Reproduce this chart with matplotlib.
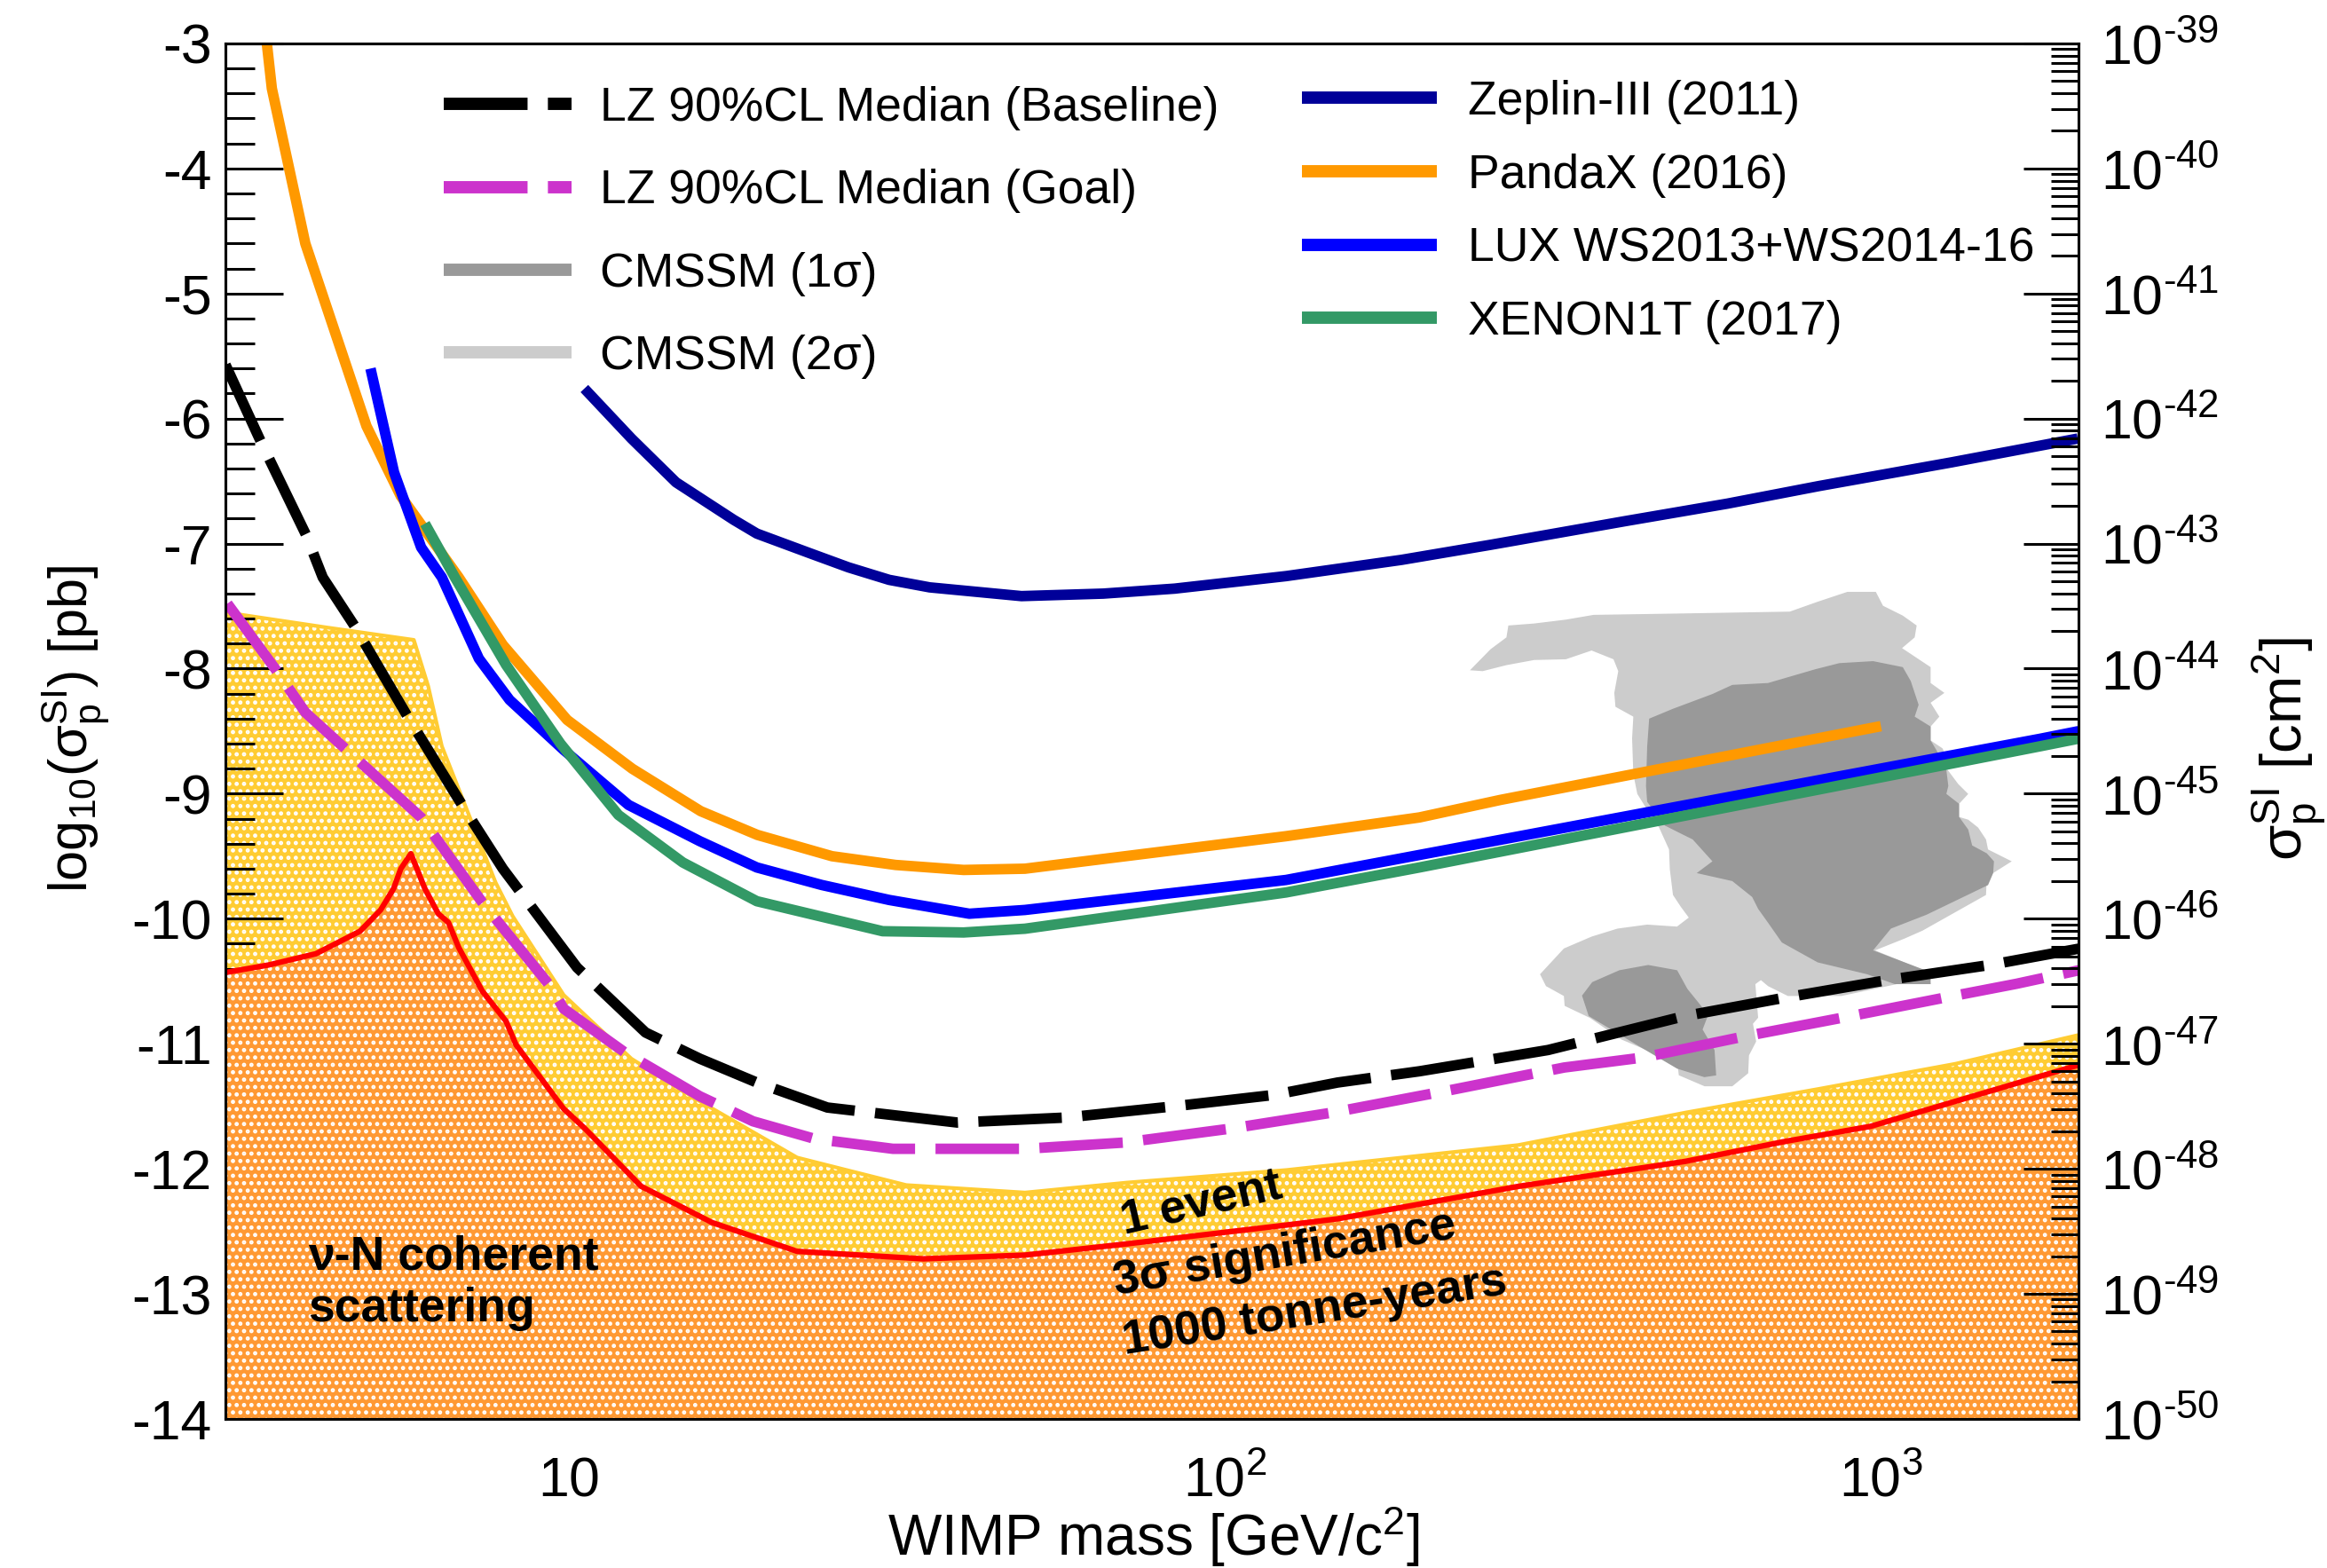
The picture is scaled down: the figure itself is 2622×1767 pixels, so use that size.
import numpy as np
import matplotlib.pyplot as plt
from matplotlib.lines import Line2D
from matplotlib.ticker import FixedLocator, FixedFormatter, LogLocator, NullFormatter, MultipleLocator

plt.rcParams['font.family'] = ['Liberation Sans', 'DejaVu Sans']
plt.rcParams['mathtext.fontset'] = 'custom'
plt.rcParams['mathtext.rm'] = 'Liberation Sans'
plt.rcParams['mathtext.it'] = 'Liberation Sans:italic'
plt.rcParams['mathtext.bf'] = 'Liberation Sans:bold'
plt.rcParams['axes.unicode_minus'] = False
plt.rcParams['hatch.color'] = 'white'
plt.rcParams['hatch.linewidth'] = 2.2

# --- curves: WIMP mass [GeV] vs log10(sigma_SI / pb) ---
zeplin_mass = [10.57, 12.47, 14.58, 17.85, 19.36, 23.4, 26.7, 30.8, 35.5, 49.0, 65.3, 83.9,
               124, 186, 254, 408, 584, 804, 1282, 1995]
zeplin_log = [-5.76, -6.16, -6.51, -6.81, -6.92, -7.08, -7.19, -7.29, -7.35, -7.42, -7.40, -7.36,
              -7.26, -7.13, -7.01, -6.82, -6.68, -6.54, -6.35, -6.16]

pandax_mass = [3.46, 3.53, 3.97, 4.92, 5.55, 6.80, 7.94, 9.95, 12.5, 15.9, 19.4, 25.2, 31.5,
               40.0, 49.6, 124, 198, 263, 1000]
pandax_log = [-2.95, -3.36, -4.60, -6.06, -6.62, -7.27, -7.81, -8.41, -8.80, -9.14, -9.33, -9.50,
              -9.57, -9.61, -9.60, -9.34, -9.19, -9.05, -8.46]

lux_mass = [4.99, 5.42, 5.96, 6.41, 7.30, 8.13, 9.83, 12.34, 15.85, 19.36, 24.3, 30.8, 40.8,
            49.6, 124, 198, 1752, 2000]
lux_log = [-5.60, -6.43, -7.03, -7.27, -7.92, -8.25, -8.65, -9.09, -9.38, -9.59, -9.73, -9.85,
           -9.96, -9.93, -9.69, -9.49, -8.56, -8.50]

xenon_mass = [6.04, 6.71, 8.03, 9.72, 11.91, 14.93, 19.36, 30.1, 40.0, 49.6, 124, 198, 1752, 2000]
xenon_log = [-6.84, -7.27, -7.97, -8.60, -9.17, -9.55, -9.86, -10.10, -10.11, -10.08, -9.79,
             -9.59, -8.62, -8.56]

lz_base_mass = [3.0, 3.40, 3.98, 4.22, 4.72, 5.68, 6.88, 7.94, 10.3, 13.1, 15.86, 19.36, 24.8,
                39.1, 57.3, 83.8, 118.5, 148.6, 198, 311, 501, 716, 1025, 1465, 2000]
lz_base_log = [-5.57, -6.19, -6.93, -7.27, -7.66, -8.38, -9.09, -9.60, -10.39, -10.91, -11.12,
               -11.31, -11.51, -11.63, -11.59, -11.50, -11.41, -11.31, -11.22, -11.05, -10.78,
               -10.63, -10.49, -10.37, -10.24]

lz_goal_mass = [3.02, 3.57, 3.97, 5.96, 7.39, 9.38, 9.83, 12.19, 15.85, 19.1, 23.7, 31.2, 49.6,
                70.3, 101.6, 146, 221, 329, 434, 621, 897, 1282, 1610, 2013]
lz_goal_log = [-7.48, -8.00, -8.35, -9.19, -9.87, -10.54, -10.72, -11.07, -11.42, -11.62, -11.76,
               -11.84, -11.84, -11.79, -11.68, -11.55, -11.37, -11.19, -11.11, -10.94, -10.78,
               -10.62, -10.52, -10.41]

# neutrino backgrounds: 1 event (yellow) and 3 sigma / 1000 t-yr (red)
nu1_mass = [3.0, 4.27, 5.81, 6.11, 6.41, 6.88, 7.74, 8.22, 9.83, 12.47, 15.85, 22.3, 32.7, 49.6,
            71, 124, 280, 504, 806, 1299, 2000]
nu1_log = [-7.55, -7.67, -7.77, -8.14, -8.62, -9.03, -9.71, -9.98, -10.61, -11.12, -11.46, -11.91,
           -12.13, -12.19, -12.11, -12.01, -11.81, -11.55, -11.36, -11.16, -10.93]

nu3_mass = [3.0, 3.49, 4.12, 4.81, 5.17, 5.41, 5.55, 5.75, 6.04, 6.33, 6.56, 6.80, 7.39, 8.03,
            8.32, 9.83, 10.6, 12.9, 16.55, 22.3, 34.7, 49.6, 71, 124, 148.6, 280.5, 504, 716,
            965, 1299, 2000]
nu3_log = [-10.43, -10.37, -10.28, -10.10, -9.93, -9.76, -9.60, -9.48, -9.76, -9.96, -10.03,
           -10.23, -10.58, -10.82, -11.01, -11.52, -11.68, -12.14, -12.43, -12.66, -12.72, -12.69,
           -12.60, -12.45, -12.40, -12.14, -11.94, -11.78, -11.66, -11.46, -11.17]

# CMSSM contours (2 sigma light, 1 sigma dark)
cmssm2_mass = [236.4, 247.2, 268.7, 296.1, 331.0, 362.3, 391.2, 397.8, 392.3, 393.9, 419.4, 417.6,
               419.4, 425.3, 440.3, 459.1, 475.4, 476.7, 482.0, 495.5, 509.5, 488.8, 440.3, 396.7,
               362.3, 328.7, 302.3, 308.7, 328.7, 329.6, 359.8, 402.2, 437.2, 488.8, 492.0, 538.5,
               593.6, 627.6, 629.4, 645.4, 638.2, 649.9, 643.6, 656.2, 672.9, 721.4, 870.2, 1057.3,
               1190.4, 1181.9, 979.5, 1087.2, 1157.4, 1445.8, 1449.8, 1582.4, 1456.1, 1445.8,
               1406.4, 1358.3, 1315.5, 1315.5, 1358.3, 1311.6, 1258.0, 1258.0, 1240.8, 1190.4,
               1190.4, 1227.4, 1190.4, 1249.4, 1190.4, 1190.4, 1076.8, 1125.7, 1133.5, 1079.7,
               1007.2, 982.2, 888.8, 800.8, 726.3, 482.0, 364.8, 331.0, 296.1, 270.5, 268.7, 254.1]
cmssm2_log = [-8.013, -8.020, -7.972, -7.931, -7.925, -7.855, -7.925, -8.020, -8.194, -8.305,
              -8.384, -8.558, -8.843, -9.002, -9.129, -9.271, -9.446, -9.604, -9.810, -9.905,
              -9.991, -10.063, -10.047, -10.079, -10.143, -10.238, -10.444, -10.539, -10.618,
              -10.697, -10.792, -10.966, -11.046, -11.125, -11.252, -11.340, -11.340, -11.236,
              -11.093, -10.982, -10.840, -10.792, -10.523, -10.491, -10.539, -10.618, -10.618,
              -10.523, -10.523, -10.428, -10.253, -10.158, -10.095, -9.810, -9.667, -9.541, -9.446,
              -9.366, -9.271, -9.208, -9.186, -9.081, -9.002, -8.923, -8.796, -8.701, -8.637,
              -8.574, -8.463, -8.384, -8.273, -8.194, -8.115, -7.988, -7.836, -7.750, -7.655,
              -7.576, -7.497, -7.386, -7.386, -7.465, -7.544, -7.560, -7.570, -7.608, -7.639,
              -7.655, -7.750, -7.845]

cmssm1_mass = [443.4, 482.0, 553.6, 593.6, 672.9, 795.3, 864.3, 972.8, 1079.7, 1110.2, 1141.3,
               1125.7, 1190.4, 1190.4, 1215.3, 1258.0, 1266.7, 1258.0, 1315.5, 1315.5, 1358.3,
               1377.2, 1449.8, 1486.7, 1482.6, 1456.1, 1173.5, 1035.6, 972.8, 1190.4, 1190.4,
               1049.9, 952.6, 800.8, 706.3, 672.9, 649.9, 636.4, 593.6, 523.9, 553.6, 516.6, 495.5,
               468.6, 440.3, 438.5, 440.3]
cmssm1_log = [-8.400, -8.321, -8.203, -8.130, -8.115, -8.004, -7.956, -7.940, -7.988, -8.099,
              -8.289, -8.384, -8.463, -8.574, -8.653, -8.812, -8.938, -9.002, -9.081, -9.186,
              -9.287, -9.414, -9.477, -9.541, -9.635, -9.731, -9.968, -10.079, -10.253, -10.428,
              -10.523, -10.523, -10.444, -10.349, -10.190, -10.032, -9.921, -9.826, -9.699, -9.635,
              -9.541, -9.366, -9.319, -9.255, -9.065, -8.938, -8.622]

cmssm1b_mass = [350.3, 363.1, 399.4, 441.9, 489.1, 507.0, 531.8, 544.5, 534.8, 557.7, 560.9,
                538.1, 489.1, 428.9, 358.6]
cmssm1b_log = [-10.615, -10.507, -10.412, -10.370, -10.412, -10.561, -10.696, -10.779, -10.886,
               -11.050, -11.253, -11.267, -11.199, -11.023, -10.778]

x_ticks = [10, 100, 1000]
x_ticklabels = ['$10$', '$10^{2}$', '$10^{3}$']
right_exps = list(range(-50, -38))

fig = plt.figure(figsize=(26.22, 17.67), dpi=100)
ax = fig.add_axes([0.0969, 0.0951, 0.7963, 0.8772])
ax.set_xscale('log')
ax.set_xlim(3, 2000)
ax.set_ylim(-14, -3)

# neutrino floors, dotted fill
ax.fill_between(nu1_mass, nu1_log, -14, facecolor='#FFCC33', edgecolor='white', linewidth=0,
                hatch='..', zorder=1)
ax.plot(nu1_mass, nu1_log, color='#FFCC33', lw=3, zorder=1.5)
ax.fill_between(nu3_mass, nu3_log, -14, facecolor='#FF9933', edgecolor='white', linewidth=0,
                hatch='..', zorder=2)
ax.plot(nu3_mass, nu3_log, color='#FF0000', lw=4.5, zorder=2.5)

# CMSSM
ax.fill(cmssm2_mass, cmssm2_log, color='#CCCCCC', lw=0, zorder=3)
ax.fill(cmssm1_mass, cmssm1_log, color='#999999', lw=0, zorder=3.1)
ax.fill(cmssm1b_mass, cmssm1b_log, color='#999999', lw=0, zorder=3.1)

lw = 8.5
ax.plot(zeplin_mass, zeplin_log, color='#000099', lw=lw, solid_capstyle='butt', zorder=4)
ax.plot(pandax_mass, pandax_log, color='#FF9900', lw=lw, solid_capstyle='butt', zorder=4.1)
ax.plot(lux_mass, lux_log, color='#0000FF', lw=lw, solid_capstyle='butt', zorder=4.2)
ax.plot(xenon_mass, xenon_log, color='#339966', lw=lw, solid_capstyle='butt', zorder=4.3)
ax.plot(lz_goal_mass, lz_goal_log, color='#CC33CC', lw=lw, dashes=(7.97, 1.95), zorder=4.4)
ax.plot(lz_base_mass, lz_base_log, color='black', lw=lw, dashes=(7.97, 1.95), zorder=4.5)

# text
bold = dict(fontsize=38.5, fontweight='bold', color='black', zorder=6)
ax.text(0.0445, 0.1084, 'ν-N coherent', transform=ax.transAxes, ha='left', va='baseline', **bold)
ax.text(0.0445, 0.0710, 'scattering', transform=ax.transAxes, ha='left', va='baseline', **bold)
ax.text(70.3, -12.52, '1 event', rotation=13, rotation_mode='anchor', ha='left', va='baseline', **bold)
ax.text(68.2, -13.01, '3σ significance', rotation=9.5, rotation_mode='anchor', ha='left',
        va='baseline', **bold)
ax.text(70.3, -13.48, '1000 tonne-years', rotation=9, rotation_mode='anchor', ha='left',
        va='baseline', **bold)

# axes styling
for sp in ax.spines.values():
    sp.set_linewidth(2.2)
ax.xaxis.set_major_locator(FixedLocator(x_ticks))
ax.xaxis.set_major_formatter(FixedFormatter(x_ticklabels))
ax.xaxis.set_minor_locator(LogLocator(base=10, subs=np.arange(2, 10)))
ax.xaxis.set_minor_formatter(NullFormatter())
ax.yaxis.set_major_locator(MultipleLocator(1))
ax.yaxis.set_minor_locator(MultipleLocator(0.2))
ax.tick_params(axis='x', which='major', direction='in', length=32.4, width=2.2, top=False,
               labelsize=45, pad=62.6)
ax.tick_params(axis='x', which='minor', direction='in', length=16.4, width=2.2, top=False)
ax.tick_params(axis='y', which='major', direction='in', length=47, width=2.2, right=False,
               labelsize=45, pad=11)
ax.tick_params(axis='y', which='minor', direction='in', length=23.4, width=2.2, right=False)
for t in ax.xaxis.get_major_ticks():
    t.label1.set_va('baseline')

ax2 = ax.twinx()
ax2.set_yscale('log')
ax2.set_ylim(1e-50, 1e-39)
ax2.yaxis.set_major_locator(FixedLocator([10.0 ** e for e in right_exps]))
ax2.yaxis.set_major_formatter(FixedFormatter([r'$10^{\text{-%d}}$' % -e for e in right_exps]))
ax2.yaxis.set_minor_locator(LogLocator(base=10, subs=np.arange(2, 10), numticks=50))
ax2.yaxis.set_minor_formatter(NullFormatter())
ax2.tick_params(axis='y', which='major', direction='in', length=45, width=2.2, labelsize=45, pad=18)
ax2.tick_params(axis='y', which='minor', direction='in', length=22, width=2.2)
for sp in ax2.spines.values():
    sp.set_linewidth(2.2)

# axis titles
fig.text(0.4958, 0.0079, 'WIMP mass [GeV/c$^{2}$]', fontsize=46, ha='center', va='baseline')
fig.text(99 / 2622, 1 - 822 / 1767, r'log$_{10}$($\mathrm{\sigma_{p}^{SI}}$) [pb]', fontsize=44,
         rotation=90, rotation_mode='anchor', ha='center', va='baseline')
fig.text(2594 / 2622, 1 - 844 / 1767, r'$\mathrm{\sigma_{p}^{SI}}$ [cm$^{2}$]', fontsize=47,
         rotation=90, rotation_mode='anchor', ha='center', va='baseline')

# legends
h1 = [Line2D([], [], color='black', lw=10, dashes=(6.8, 1.65)),
      Line2D([], [], color='#CC33CC', lw=10, dashes=(6.8, 1.65)),
      Line2D([], [], color='#999999', lw=10, solid_capstyle='butt'),
      Line2D([], [], color='#CCCCCC', lw=10, solid_capstyle='butt')]
l1 = ['LZ 90%CL Median (Baseline)', 'LZ 90%CL Median (Goal)', 'CMSSM (1σ)', 'CMSSM (2σ)']
h2 = [Line2D([], [], color=c, lw=10, solid_capstyle='butt')
      for c in ['#000099', '#FF9900', '#0000FF', '#339966']]
l2 = ['Zeplin-III (2011)', 'PandaX (2016)', 'LUX WS2013+WS2014-16', 'XENON1T (2017)']

leg1 = ax.legend(h1, l1, loc='upper left', bbox_to_anchor=(500 / 2622, 1 - 97 / 1767),
                 bbox_transform=fig.transFigure, frameon=False, fontsize=38.5, handlelength=2.7,
                 handletextpad=0.6, labelspacing=0.81, borderpad=0, borderaxespad=0)
ax.add_artist(leg1)
ax.legend(h2, l2, loc='upper left', bbox_to_anchor=(1467 / 2622, 1 - 90 / 1767),
          bbox_transform=fig.transFigure, frameon=False, fontsize=38.5, handlelength=2.85,
          handletextpad=0.65, labelspacing=0.61, borderpad=0, borderaxespad=0)

fig.savefig('out.png', dpi=100)
